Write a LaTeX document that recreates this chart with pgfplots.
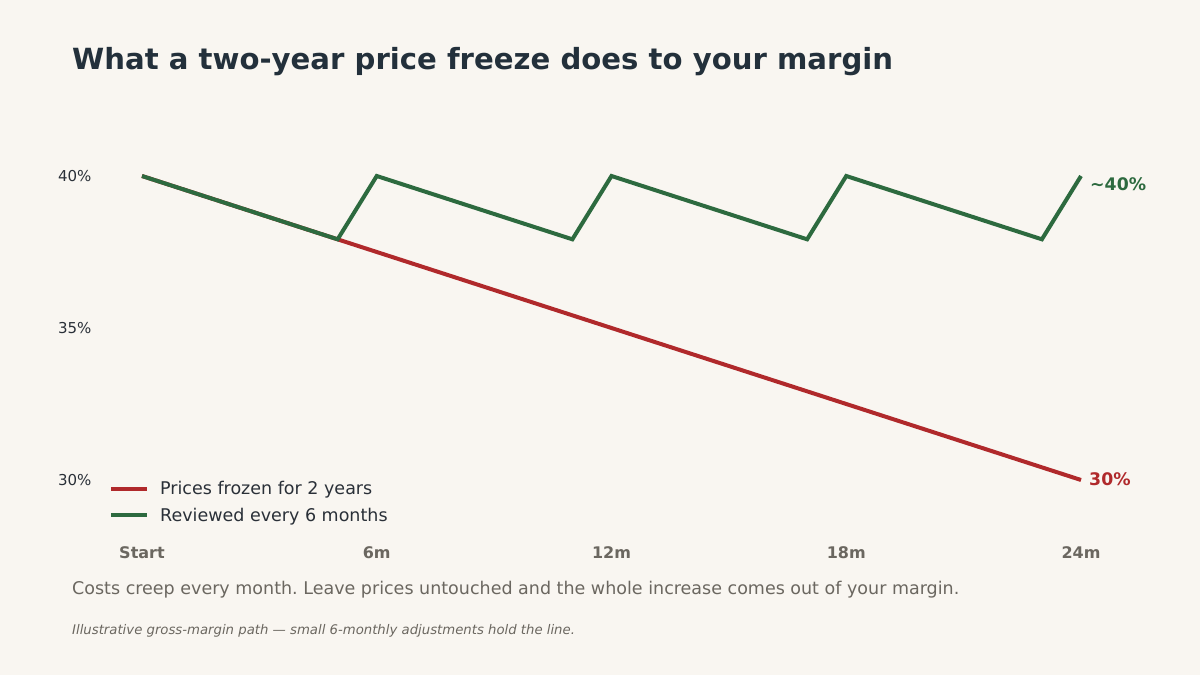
\documentclass[border=0pt]{standalone}
\usepackage{pgfplots}
\pgfplotsset{compat=1.18}
\usepackage{fontspec}
\setmainfont{DejaVu Sans}
\definecolor{bg}{HTML}{F9F6F1}
\definecolor{titlec}{HTML}{23303B}
\definecolor{redc}{HTML}{B0292B}
\definecolor{greenc}{HTML}{2D6A3F}
\definecolor{grayc}{HTML}{6B6760}
\definecolor{tickc}{HTML}{2A3038}
\frenchspacing
\begin{document}
\begin{tikzpicture}
\path[use as bounding box, fill=bg] (0,0) rectangle (1200bp,675bp);
\node[anchor=base west, inner sep=0, text=titlec, font=\fontsize{29.15bp}{34bp}\selectfont\bfseries] at (72bp,605bp) {What a two-year price freeze does to your margin};
\node[anchor=base west, inner sep=0, text=grayc, font=\fontsize{17.5bp}{21bp}\selectfont] at (72bp,80bp) {Costs creep every month. Leave prices untouched and the whole increase comes out of your margin.};
\node[anchor=base west, inner sep=0, text=grayc, font=\fontsize{13.25bp}{16bp}\selectfont\itshape] at (72bp,40bp) {Illustrative gross-margin path — small 6-monthly adjustments hold the line.};
\begin{axis}[
  at={(142bp,195bp)}, anchor=south west,
  scale only axis, width=939bp, height=304bp,
  xmin=0, xmax=24, ymin=30, ymax=40,
  clip=false,
  axis line style={draw=none},
  tick style={draw=none},
  xtick={0,6,12,18,24},
  xticklabels={Start,6m,12m,18m,24m},
  ytick={30,35,40},
  yticklabels={30\%,35\%,40\%},
  xticklabel style={text=grayc, font=\fontsize{16bp}{19bp}\selectfont\bfseries, yshift=-63bp},
  yticklabel style={text=tickc, font=\fontsize{15bp}{18bp}\selectfont, anchor=east, xshift=-47bp},
  legend cell align=left,
  legend style={at={(axis description cs:0,0)}, anchor=north west, xshift=-36bp, yshift=3bp,
    draw=none, fill=none, font=\fontsize{17.5bp}{20bp}\selectfont, text=tickc,
    row sep=8bp},
  legend image code/.code={\draw[#1, line width=4bp] (0bp,0bp) -- (36bp,0bp); \path (45bp,0bp);},
]
\addplot[color=redc, line width=4bp] coordinates {(0,40) (24,30)};
\addlegendentry{Prices frozen for 2 years}
\addplot[color=greenc, line width=4bp] coordinates {
(0,40) (5,37.917) (6,40) (11,37.917) (12,40) (17,37.917) (18,40) (23,37.917) (24,40)};
\addlegendentry{Reviewed every 6 months}
\node[anchor=west, inner sep=0, text=greenc, font=\fontsize{17.3bp}{20bp}\selectfont\bfseries, xshift=9bp, yshift=-8bp] at (axis cs:24,40) {\textasciitilde40\%};
\node[anchor=west, inner sep=0, text=redc, font=\fontsize{17.3bp}{20bp}\selectfont\bfseries, xshift=8bp, yshift=1bp] at (axis cs:24,30) {30\%};
\end{axis}
\end{tikzpicture}
\end{document}
